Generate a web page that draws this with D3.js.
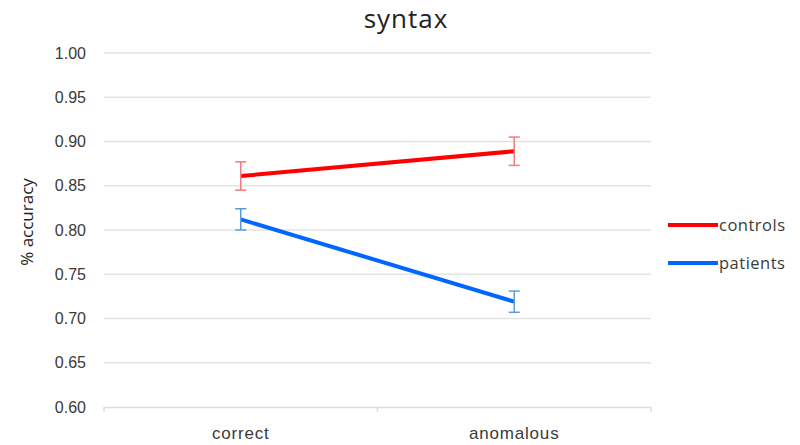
<!DOCTYPE html>
<html>
<head>
<meta charset="utf-8">
<script src="https://cdn.jsdelivr.net/npm/d3@7"></script>
<style>
  body { margin: 0; background: #fff; }
  svg { display: block; font-family: "Open Sans", "Noto Sans", sans-serif; }
</style>
</head>
<body>
<svg id="chart" width="800" height="445"></svg>
<script>
const categories = ["correct", "anomalous"];
const seriesNames = ["controls", "patients"];
const controlsValues = [0.861, 0.889];
const controlsErrors = [0.016, 0.016];
const patientsValues = [0.812, 0.719];
const patientsErrors = [0.012, 0.012];
const yTicks = [0.60, 0.65, 0.70, 0.75, 0.80, 0.85, 0.90, 0.95, 1.00];
const chartTitle = "syntax";
const yTitle = "% accuracy";

const series = [
  { name: seriesNames[0], values: controlsValues, errors: controlsErrors, color: "#ff0000", errColor: "#f47c7c" },
  { name: seriesNames[1], values: patientsValues, errors: patientsErrors, color: "#0066ff", errColor: "#5b9bdb" }
];

const svg = d3.select("#chart");
const mLeft = 104, mRight = 651, mTop = 53, mBottom = 407;

const x = d3.scaleBand().domain(categories).range([mLeft, mRight]);
const y = d3.scaleLinear().domain([0.60, 1.00]).range([mBottom, mTop]);

// gridlines
svg.append("g").selectAll("line").data(yTicks.slice(1)).join("line")
  .attr("x1", mLeft).attr("x2", mRight)
  .attr("y1", d => y(d)).attr("y2", d => y(d))
  .attr("stroke", "#e3e3e3").attr("stroke-width", 1.5);

// x axis
const xAxis = svg.append("g").attr("transform", `translate(0,${y(0.60)})`)
  .call(d3.axisBottom(x).tickSize(0).tickPadding(20));
xAxis.select(".domain").attr("stroke", "#dcdcdc").attr("stroke-width", 1.5);
xAxis.selectAll("text").attr("font-size", 17).attr("letter-spacing", 0.8).attr("fill", "#3a3a3a");
// boundary ticks
const bounds = [mLeft, (mLeft + mRight) / 2, mRight];
svg.append("g").selectAll("line").data(bounds).join("line")
  .attr("x1", d => d).attr("x2", d => d)
  .attr("y1", y(0.60)).attr("y2", y(0.60) + 5)
  .attr("stroke", "#dcdcdc").attr("stroke-width", 1.5);

// y axis labels
const yAxis = svg.append("g").attr("transform", `translate(${mLeft},0)`)
  .call(d3.axisLeft(y).tickValues(yTicks).tickFormat(d3.format(".2f")).tickSize(0).tickPadding(18));
yAxis.select(".domain").remove();
yAxis.selectAll("text").attr("font-size", 16).attr("fill", "#3a3a3a");

// title
svg.append("text").attr("x", 406).attr("y", 28).attr("text-anchor", "middle")
  .attr("font-size", 26).attr("letter-spacing", 1).attr("fill", "#222").text(chartTitle);

// y title
svg.append("text").attr("transform", `translate(33,222) rotate(-90)`)
  .attr("text-anchor", "middle").attr("font-size", 17).attr("fill", "#222").text(yTitle);

const line = d3.line().x((d, i) => x(categories[i]) + x.bandwidth() / 2).y(d => y(d));

series.forEach(s => {
  const g = svg.append("g");
  g.append("path").datum(s.values).attr("d", line)
    .attr("fill", "none").attr("stroke", s.color).attr("stroke-width", 4);
  const eb = g.selectAll(".eb").data(s.values.map((v, i) => ({ v, e: s.errors[i], c: categories[i] }))).join("g");
  const cx = d => x(d.c) + x.bandwidth() / 2;
  eb.append("line").attr("x1", cx).attr("x2", cx)
    .attr("y1", d => y(d.v + d.e)).attr("y2", d => y(d.v - d.e))
    .attr("stroke", s.errColor).attr("stroke-width", 1.5);
  [1, -1].forEach(sg => {
    eb.append("line").attr("x1", d => cx(d) - 5.5).attr("x2", d => cx(d) + 5.5)
      .attr("y1", d => y(d.v + sg * d.e)).attr("y2", d => y(d.v + sg * d.e))
      .attr("stroke", s.errColor).attr("stroke-width", 1.5);
  });
});

// legend
const legend = svg.append("g");
series.forEach((s, i) => {
  const ly = 225 + i * 38;
  legend.append("line").attr("x1", 668).attr("x2", 718).attr("y1", ly).attr("y2", ly)
    .attr("stroke", s.color).attr("stroke-width", 4);
  legend.append("text").attr("x", 719).attr("y", ly + 6).attr("font-size", 16.5)
    .attr("letter-spacing", 0.5).attr("fill", "#3a3a3a").text(s.name);
});
</script>
</body>
</html>
